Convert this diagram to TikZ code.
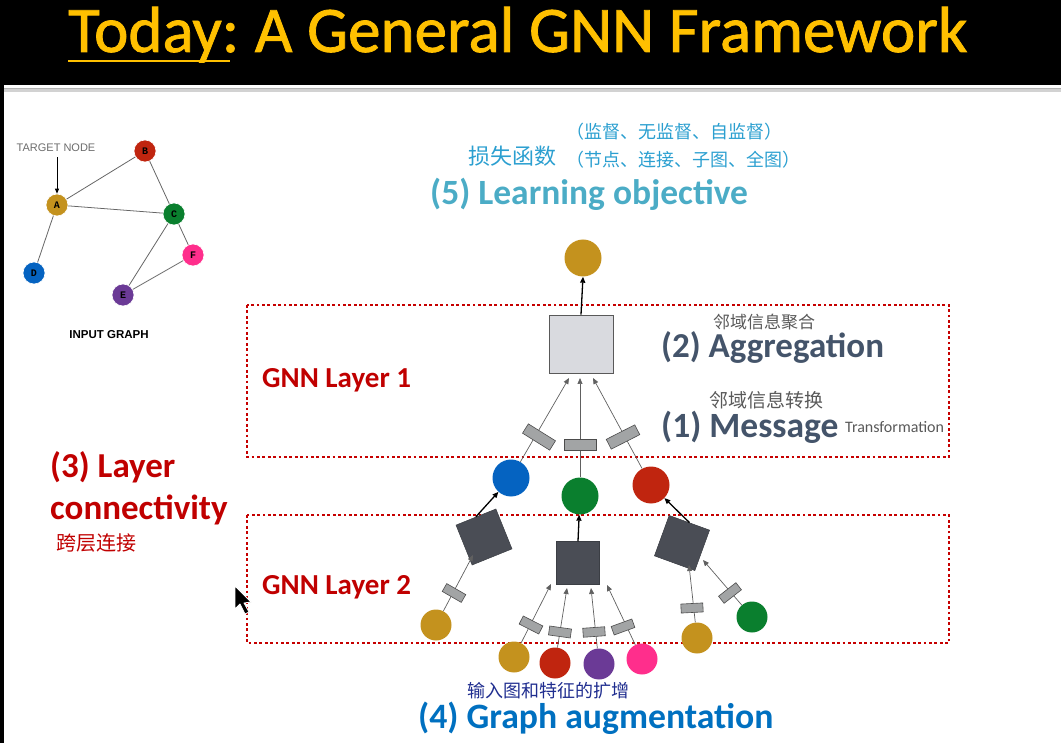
\documentclass[tikz,border=0pt]{standalone}
\usepackage{fontspec}
\setmainfont{Carlito}
\newfontfamily\titlefont[FakeBold=1.2]{Carlito}
\newfontfamily\cjk{Noto Sans CJK SC}
\newfontfamily\graphfont{Liberation Sans}
\newfontfamily\labelfont{Liberation Mono}
\usetikzlibrary{arrows.meta}

\definecolor{titleyellow}{HTML}{FFC000}
\definecolor{ngold}{HTML}{C4921E}
\definecolor{nred}{HTML}{C0250F}
\definecolor{ngreen}{HTML}{0A7F2E}
\definecolor{nblue}{HTML}{0563C1}
\definecolor{npink}{HTML}{FF2E8C}
\definecolor{npurple}{HTML}{6B3A96}
\definecolor{layerred}{HTML}{C00000}
\definecolor{slate}{HTML}{44546A}
\definecolor{objblue}{HTML}{4BACC6}
\definecolor{augblue}{HTML}{0070C0}
\definecolor{handblue}{HTML}{2B9FD0}
\definecolor{handnavy}{HTML}{1F2D8F}
\definecolor{aggdark}{HTML}{4A4D55}
\definecolor{agglight}{HTML}{D9DADF}
\definecolor{msggray}{HTML}{A2A4A5}

\tikzset{
  gnode/.style={circle, minimum size=22pt, inner sep=0pt, draw=white, line width=0.6pt,
                font=\labelfont\bfseries\fontsize{10}{10}\selectfont},
  gedge/.style={draw=gray!80!black, line width=0.8pt},
  bigdot/.style={circle, minimum size=37pt, inner sep=0pt},
  smalldot/.style={circle, minimum size=31pt, inner sep=0pt},
  aggbox/.style={draw=gray!70!black, line width=0.8pt, fill=agglight, minimum width=64pt, minimum height=58pt, inner sep=0pt},
  darkbox/.style={fill=aggdark, draw=aggdark!80!black, line width=0.5pt, minimum size=43pt, inner sep=0pt},
  msgbox/.style={fill=msggray, draw=gray!60!black, line width=0.6pt, minimum width=32pt, minimum height=11pt, inner sep=0pt},
  msgsmall/.style={fill=msggray, draw=gray!60!black, line width=0.6pt, minimum width=22pt, minimum height=9pt, inner sep=0pt},
  msgline/.style={draw=gray!75!black, line width=0.7pt, -{Triangle[length=6pt,width=5pt]}},
  outarrow/.style={draw=black, line width=1.3pt, -{Triangle[length=6pt,width=5pt]}},
  layerbox/.style={draw=layerred!90!red, line width=2.8pt, dash pattern=on 2.8pt off 2.6pt},
  heading/.style={anchor=base west, inner sep=0pt, font=\bfseries\fontsize{#1}{#1}\selectfont},
  hand/.style={inner sep=0pt, font=\cjk\fontsize{#1}{#1}\selectfont},
}

\begin{document}
\begin{tikzpicture}[x=1pt,y=-1pt]
\useasboundingbox (0,0) rectangle (1061,743);

% slide frame: black title bar and left edge
\fill[black] (0,0) rectangle (1061,85);
\fill[black] (0,85) rectangle (4,743);
\fill[gray!35] (4,88) rectangle (1061,92);
\draw[gray!60, line width=0.6pt] (4,88) -- (1061,88);

% title
\node[anchor=base west, inner sep=0pt, text=titleyellow, font=\titlefont\fontsize{65}{65}\selectfont] (title) at (68,52) {Today:\kern-4pt{} A General GNN Framework};
\draw[titleyellow, line width=2.5pt] (68,61) -- (230,61);

% ---------------- input graph ----------------
\node[gnode, fill=nred]    (B) at (145,151) {B};
\node[gnode, fill=ngold]   (A) at (57,205)  {A};
\node[gnode, fill=ngreen]  (C) at (174,214) {C};
\node[gnode, fill=npink]   (F) at (193,255) {F};
\node[gnode, fill=nblue]   (D) at (34,273)  {D};
\node[gnode, fill=npurple] (E) at (123,295) {E};
\draw[gedge] (A) -- (B);
\draw[gedge] (A) -- (C);
\draw[gedge] (B) -- (C);
\draw[gedge] (A) -- (D);
\draw[gedge] (C) -- (E);
\draw[gedge] (C) -- (F);
\draw[gedge] (E) -- (F);
\node[inner sep=0pt, text=gray!85!black, font=\graphfont\fontsize{11}{11}\selectfont] (tn) at (56,148) {TARGET NODE};
\draw[black, line width=0.8pt, -{Triangle[length=5pt,width=4pt]}] (tn.south -| A) ++(0,5) coordinate (tnstart) -- (A.north);
\node[inner sep=0pt, font=\graphfont\bfseries\fontsize{11.5}{11.5}\selectfont] (ig) at (109,335) {INPUT GRAPH};

% ---------------- learning objective ----------------
\node[hand=22, text=handblue, anchor=west] (loss) at (468,156) {损失函数};
\node[hand=18, text=handblue, anchor=west] (sup) at (566,132) {（监督、无监督、自监督）};
\node[hand=18, text=handblue, anchor=west] (lvl) at (566,160) {（节点、连接、子图、全图）};
\node[heading=35.5, text=objblue] (obj) at (430,205) {(5) Learning objective};

% ---------------- layer boxes ----------------
\draw[layerbox] (247,305) rectangle (949,457);
\draw[layerbox] (247,515) rectangle (949,643);
\node[heading=29, text=layerred] (l1) at (262,388) {GNN Layer 1};
\node[heading=29, text=layerred] (l2) at (262,594) {GNN Layer 2};

% ---------------- layer 1 ----------------
\node[bigdot, fill=ngold] (out) at (583,258) {};
\node[aggbox] (agg) at (581,344) {};
\draw[outarrow] (agg.north) -- (out.south);

\node[bigdot, fill=nblue]  (h1) at (511,478) {};
\node[bigdot, fill=ngreen] (h2) at (580,496) {};
\node[bigdot, fill=nred]   (h3) at (651,485) {};

\coordinate (t1) at (569,378);
\coordinate (t2) at (580,378);
\coordinate (t3) at (593,378);
\draw[msgline] (h1) -- (t1);
\draw[msgline] (h2) -- (t2);
\draw[msgline] (h3) -- (t3);
\node[msgbox, rotate=-32] (m1) at (539,437) {};
\node[msgbox]             (m2) at (580,445) {};
\node[msgbox, rotate=27]  (m3) at (623,437) {};

\node[hand=17, text=gray!70!black] (aggzh) at (764,322) {邻域信息聚合};
\node[heading=35, text=slate] (aggtxt) at (661,358) {(2) Aggregation};
\node[hand=19, text=gray!70!black] (msgzh) at (766,400) {邻域信息转换};
\node[heading=35.5, text=slate] (msgtxt) at (661,437) {(1) Message};
\node[anchor=base west, inner sep=0pt, text=gray!70!black, font=\fontsize{16}{16}\selectfont] (trans) at (845,432) {Transformation};

% ---------------- layer 2 ----------------
\node[darkbox, rotate=22]  (ga) at (484,537) {};
\node[darkbox]             (gb) at (578,563) {};
\node[darkbox, rotate=-20] (gc) at (682,543) {};
\draw[outarrow] (ga.north) -- (h1);
\draw[outarrow] (gb.north) -- (h2);
\draw[outarrow] (gc.north) -- (h3);

% inputs of the left box
\node[smalldot, fill=ngold] (a1) at (436,625) {};
\coordinate (ta1) at (473,555);
\draw[msgline] (a1) -- (ta1);
\node[msgsmall, rotate=-30] (ma1) at (454,593) {};

% inputs of the middle box
\node[smalldot, fill=ngold]   (b1) at (514,657) {};
\node[smalldot, fill=nred]    (b2) at (555,663) {};
\node[smalldot, fill=npurple] (b3) at (599,664) {};
\node[smalldot, fill=npink]   (b4) at (642,659) {};
\coordinate (tb1) at (551,584);
\coordinate (tb2) at (567,588);
\coordinate (tb3) at (591,588);
\coordinate (tb4) at (607,585);
\draw[msgline] (b1) -- (tb1);
\draw[msgline] (b2) -- (tb2);
\draw[msgline] (b3) -- (tb3);
\draw[msgline] (b4) -- (tb4);
\node[msgsmall, rotate=-27] (mb1) at (531,625) {};
\node[msgsmall, rotate=-8]  (mb2) at (560,632) {};
\node[msgsmall, rotate=4]   (mb3) at (594,632) {};
\node[msgsmall, rotate=20]  (mb4) at (623,627) {};

% inputs of the right box
\node[smalldot, fill=ngold]  (c1) at (697,638) {};
\node[smalldot, fill=ngreen] (c2) at (752,617) {};
\coordinate (tc1) at (689,565);
\coordinate (tc2) at (703,560);
\draw[msgline] (c1) -- (tc1);
\draw[msgline] (c2) -- (tc2);
\node[msgsmall, rotate=3]  (mc1) at (692,608) {};
\node[msgsmall, rotate=38] (mc2) at (730,593) {};

% ---------------- layer connectivity ----------------
\node[heading=35, text=layerred] (lc1) at (50,477) {(3) Layer};
\node[heading=35, text=layerred] (lc2) at (50,519) {connectivity};
\node[hand=20, text=layerred, anchor=west] (lczh) at (56,543) {跨层连接};

% ---------------- graph augmentation ----------------
\node[hand=18, text=handnavy, anchor=west] (augzh) at (467,691) {输入图和特征的扩增};
\node[heading=35.7, text=augblue] (augtxt) at (418,728) {(4) Graph augmentation};

% mouse pointer
\filldraw[fill=black, draw=white, line width=0.8pt, line join=round]
  (235,586) -- (235,609) -- (240,604) -- (245,614) -- (249,612) -- (244,603) -- (251,602) -- cycle;
\end{tikzpicture}
\end{document}
